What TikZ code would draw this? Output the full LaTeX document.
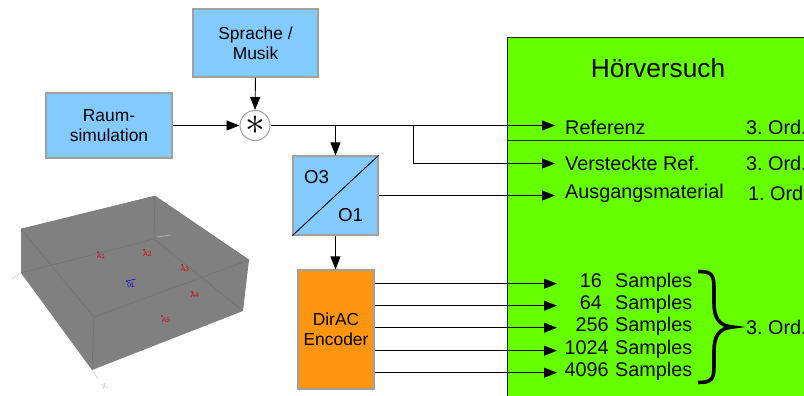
\documentclass[tikz,border=0pt]{standalone}
\usepackage{fontspec}
\setmainfont{Liberation Sans}
\usetikzlibrary{arrows.meta,calc}
\definecolor{boxblue}{HTML}{83CAFF}
\definecolor{boxgreen}{HTML}{66FF00}
\definecolor{boxorange}{HTML}{FF950E}
\definecolor{boxline}{HTML}{A0A0A0}
\definecolor{roomgray}{HTML}{808080}
\definecolor{roomedge}{HTML}{707070}
\definecolor{axisgray}{HTML}{C4C4C4}
\tikzset{
  x=1pt,y=-1pt,
  fs/.style={font=\fontsize{#1}{20}\selectfont},
  block/.style={draw=boxline,line width=1.2pt,fill=#1,align=center,inner sep=0pt,fs=17.4},
  wire/.style={line width=.9pt,black},
  arrowwire/.style={wire,-{Triangle[length=13pt,width=10pt]}},
  lbl/.style={anchor=west,inner ysep=0pt,inner xsep=0pt,fs=19.8},
  smp/.style={anchor=west,inner ysep=0pt,inner xsep=0pt,fs=19.8,text width=135pt,align=right},
  redlbl/.style={text=red!85!black,font=\fontsize{6.6}{7}\selectfont,inner sep=0pt},
  redpt/.style={circle,fill=red!85!black,inner sep=0pt,minimum size=2pt},
}
\begin{document}
\frenchspacing
\begin{tikzpicture}
\useasboundingbox (0,0) rectangle (804,396);
\begin{scope}
\clip (0,0) rectangle (804,396);
% Green panel
\node[draw=black!85,line width=1.4pt,fill=boxgreen,minimum width=320pt,minimum height=380pt,anchor=north west,inner sep=0pt] (panel) at (507,37) {};
\draw[black!85,line width=1.3pt] (507,140.5) -- (804,140.5);
\node[fs=26.3,anchor=center,inner sep=0pt] (title) at (658,68) {Hörversuch};
\node[lbl] (ref) at (565,127) {Referenz};
\node[lbl] (hid) at (565,163.5) {Versteckte Ref.};
\node[lbl] (mat) at (565,193) {Ausgangsmaterial};
\node[lbl] (o1) at (746,127) {3. Ord.};
\node[lbl] (o2) at (746,163.5) {3. Ord.};
\node[lbl] (o3) at (748,193) {1. Ord.};
\node[lbl] (o4) at (746,327) {3. Ord.};
\node[smp] (s1) at (557,282) {16\ \ Samples};
\node[smp] (s2) at (557,304) {64\ \ Samples};
\node[smp] (s3) at (557,326) {256 Samples};
\node[smp] (s4) at (557,349) {1024 Samples};
\node[smp] (s5) at (557,371) {4096 Samples};
\draw[line width=3.6pt,line cap=butt] (698,271.5) .. controls (712,271.5) and (714,275) .. (714,288) -- (714,303) .. controls (714,318) and (719,326) .. (733,327) .. controls (719,328) and (714,336) .. (714,351) -- (714,366) .. controls (714,379) and (712,382.5) .. (698,382.5);
\end{scope}
% Blocks
\node[block=boxblue,minimum width=125pt,minimum height=68pt] (src) at (255.5,43) {Sprache /\\Musik};
\node[block=boxblue,minimum width=126pt,minimum height=65pt] (raum) at (109,125.5) {Raum-\\simulation};
\node[draw=boxline,line width=1pt,fill=white,circle,minimum size=30pt,inner sep=0pt] (mix) at (255,125.5) {};
\node[inner sep=0pt] (star) at (mix.center) {\scalebox{1.6}{\fontsize{50}{50}\selectfont$\ast$}};
\node[block=boxblue,minimum width=85pt,minimum height=79pt] (conv) at (335.5,195.5) {};
\draw[wire] (conv.south west) -- (conv.north east);
\node[fs=18.7,inner sep=0pt] (lo3) at (316.5,177) {O3};
\node[fs=18.7,inner sep=0pt] (lo1) at (350.5,215) {O1};
\node[block=boxorange,minimum width=76pt,minimum height=119pt] (enc) at (336,329.5) {DirAC\\Encoder};
% Connectors
\draw[arrowwire] (src.south) -- (mix.north);
\draw[arrowwire] (raum.east) -- (mix.west);
\draw[arrowwire] (mix.east) -- ([xshift=-10pt]ref.west |- mix.east);
\coordinate (j1) at (conv.north |- mix.east);
\draw[arrowwire] (j1) -- (conv.north);
\coordinate (j2) at (413,125.5);
\draw[arrowwire] (j2) |- ([xshift=-10pt,yshift=0pt]hid.west);
\draw[arrowwire] (conv.east) -- ([xshift=-10pt]mat.west |- conv.east);
\draw[arrowwire] (conv.south) -- (enc.north -| conv.south);
\foreach \s in {s1,s2,s3,s4,s5}{
  \draw[arrowwire] ([yshift=-1.7pt]enc.east |- \s.west) -- ([yshift=-1.7pt]\s.west);
}
% Room
\fill[roomgray] (21,229) -- (155,196) -- (249,260) -- (243,311) -- (92,370) -- (21,273) -- cycle;
\draw[roomedge,line width=.45pt] (21,229) -- (155,196) -- (249,260) -- (94,317) -- cycle;
\draw[roomedge,line width=.45pt] (21,273) -- (154,239) -- (243,311);
\draw[roomedge,line width=.45pt] (155,196) -- (154,239);
\draw[roomedge,line width=.45pt] (94,317) -- (92,370);
\draw[axisgray,line width=.5pt] (12,279) -- (21,273);
\draw[axisgray,line width=.5pt] (92,370) -- (98,379);
\draw[axisgray,line width=.5pt] (157,237) -- (171,235);
\draw[axisgray,line width=.5pt] (101,384) -- (108,388) (105,383) -- (103,389);
\foreach \n/\px/\py/\lx/\ly in {A1/98/252/101/256,A2/144/250/147.5/254,A3/182/265/185/269,A4/192/292/195/295.5,A5/162/316/166/320}{
  \node[redpt] (p\n) at (\px,\py) {};
  \node[redlbl] (l\n) at (\lx,\ly) {\n};
}
\node[redpt,fill=blue!80!black] (pin) at (127,281) {};
\coordinate (pdir) at (136,279);
\draw[blue!80!black,line width=.5pt] (pin) -- (pdir);
\node[redlbl,text=blue!80!black] (lin) at (131,285) {01};
\end{tikzpicture}
\end{document}
